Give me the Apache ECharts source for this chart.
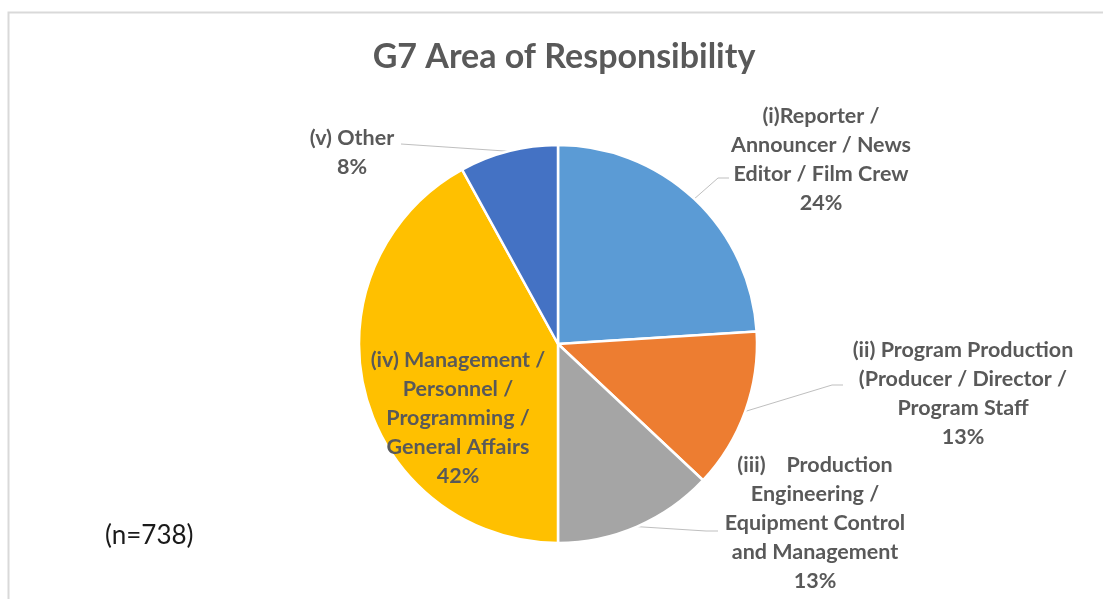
<!DOCTYPE html>
<html>
<head>
<meta charset="utf-8">
<style>
  html, body { margin: 0; padding: 0; background: #ffffff; }
  #chart { width: 1103px; height: 599px; }
</style>
<script src="https://cdn.jsdelivr.net/npm/echarts@6/dist/echarts.min.js"></script>
</head>
<body>
<div id="chart"></div>
<script>
// Categories of responsibility (line breaks as they wrap in the labels)
const categories = [
  '(i)Reporter /\nAnnouncer / News\nEditor / Film Crew',
  '(ii) Program Production\n(Producer / Director /\nProgram Staff',
  '(iii)    Production\nEngineering /\nEquipment Control\nand Management',
  '(iv) Management /\nPersonnel /\nProgramming /\nGeneral Affairs',
  '(v) Other'
];
// Share of respondents, percent
const shares = [24, 13, 13, 42, 8];
const sliceColors = ['#5B9BD5', '#ED7D31', '#A5A5A5', '#FFC000', '#4472C4'];
const chartTitle = 'G7 Area of Responsibility';
const sampleNote = '(n=738)';

const FONT = 'Lato, "Open Sans", sans-serif';
const TEXT_GRAY = '#595959';

// Where each label block sits, and the bend/end of its leader line
const labelSpots = [
  { x: 821, y: 160, line: [[718, 178], [729, 178]] },
  { x: 963, y: 394, line: [[832, 385], [843, 385]] },
  { x: 815, y: 523, line: [[706, 531], [718, 531]] },
  { x: 458, y: 418, line: null },
  { x: 352, y: 153, line: [[401, 144]] }
];

const chart = echarts.init(document.getElementById('chart'), null, { renderer: 'canvas' });

const pieData = categories.map((name, i) => {
  const item = { name: name, value: shares[i], itemStyle: { color: sliceColors[i] } };
  if (i === 3) {
    item.label = { position: 'inside' };
    item.labelLine = { show: false };
  }
  return item;
});

chart.setOption({
  animation: false,
  backgroundColor: '#ffffff',
  title: {
    text: chartTitle,
    left: 559,
    top: 35,
    textAlign: 'center',
    textStyle: { fontFamily: FONT, fontSize: 34, fontWeight: 'bold', color: TEXT_GRAY }
  },
  graphic: [
    {
      type: 'rect',
      shape: { x: 8.5, y: 12.5, width: 1300, height: 800 },
      style: { fill: 'none', stroke: '#D9D9D9', lineWidth: 2 },
      silent: true
    },
    {
      type: 'text',
      left: 105,
      top: 523,
      style: { text: sampleNote, fontFamily: FONT, fontSize: 26, fill: '#1a1a1a' },
      silent: true
    }
  ],
  series: [{
    type: 'pie',
    center: [558, 344],
    radius: 199,
    startAngle: 90,
    clockwise: true,
    percentPrecision: 0,
    emphasis: { disabled: true },
    itemStyle: { borderColor: '#ffffff', borderWidth: 2.5 },
    label: {
      show: true,
      position: 'outside',
      formatter: '{b}\n{d}%',
      fontFamily: FONT,
      fontSize: 21.5,
      fontWeight: 'bold',
      color: TEXT_GRAY,
      lineHeight: 29,
      align: 'center'
    },
    labelLine: {
      show: true,
      lineStyle: { color: '#BFBFBF', width: 1 }
    },
    labelLayout: function (params) {
      const spot = labelSpots[params.dataIndex];
      const out = { x: spot.x, y: spot.y, align: 'center', verticalAlign: 'middle' };
      if (spot.line && params.labelLinePoints) {
        out.labelLinePoints = [params.labelLinePoints[0]].concat(spot.line);
      }
      return out;
    },
    data: pieData
  }]
});
</script>
</body>
</html>
